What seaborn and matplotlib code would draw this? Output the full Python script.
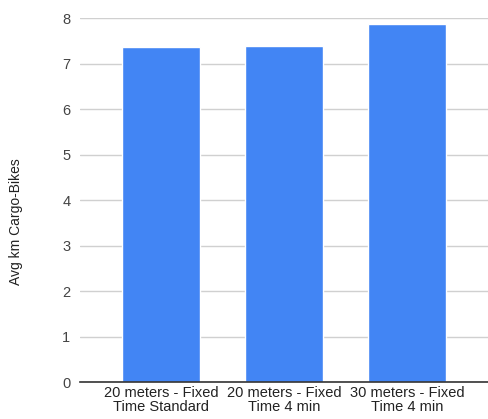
import matplotlib
matplotlib.use("Agg")
import matplotlib.pyplot as plt
import seaborn as sns
import pandas as pd

categories = ["20 meters - Fixed\nTime Standard", "20 meters - Fixed\nTime 4 min", "30 meters - Fixed\nTime 4 min"]
avg_km = [7.36, 7.38, 7.87]
y_ticks = [0, 1, 2, 3, 4, 5, 6, 7, 8]

sns.set_theme(style="white")
plt.rcParams["font.family"] = ["Liberation Sans", "DejaVu Sans"]

df = pd.DataFrame({"scenario": categories, "avg_km": avg_km})

fig = plt.figure(figsize=(4.88, 4.19), dpi=100)
ax = fig.add_axes([0.164, 0.0883, 0.836, 0.8687])

sns.barplot(data=df, x="scenario", y="avg_km", color="#4285F4", saturation=1,
            width=0.63, ax=ax, zorder=3)

ax.set_ylim(0, 8)
ax.set_xlim(-0.66, 2.66)
ax.set_yticks(y_ticks)
ax.set_yticklabels([str(t) for t in y_ticks])
ax.grid(axis="y", color="#d0d0d0", linewidth=1, zorder=0)
ax.grid(axis="x", visible=False)
for s in ["top", "right", "left"]:
    ax.spines[s].set_visible(False)
ax.spines["bottom"].set_color("#333333")
ax.spines["bottom"].set_linewidth(1.2)
ax.spines["bottom"].set_zorder(4)

ax.tick_params(axis="y", length=0, pad=7, labelsize=10.5, labelcolor="#444444")
ax.tick_params(axis="x", length=0, pad=3, labelsize=10.5, labelcolor="#222222")
for lbl in ax.get_xticklabels():
    lbl.set_linespacing(0.95)

ax.set_xlabel("")
ax.set_ylabel("Avg km Cargo-Bikes", fontsize=10, color="#222222")
ax.yaxis.set_label_coords(-0.14, 0.44)

fig.savefig("out.png", dpi=100)
